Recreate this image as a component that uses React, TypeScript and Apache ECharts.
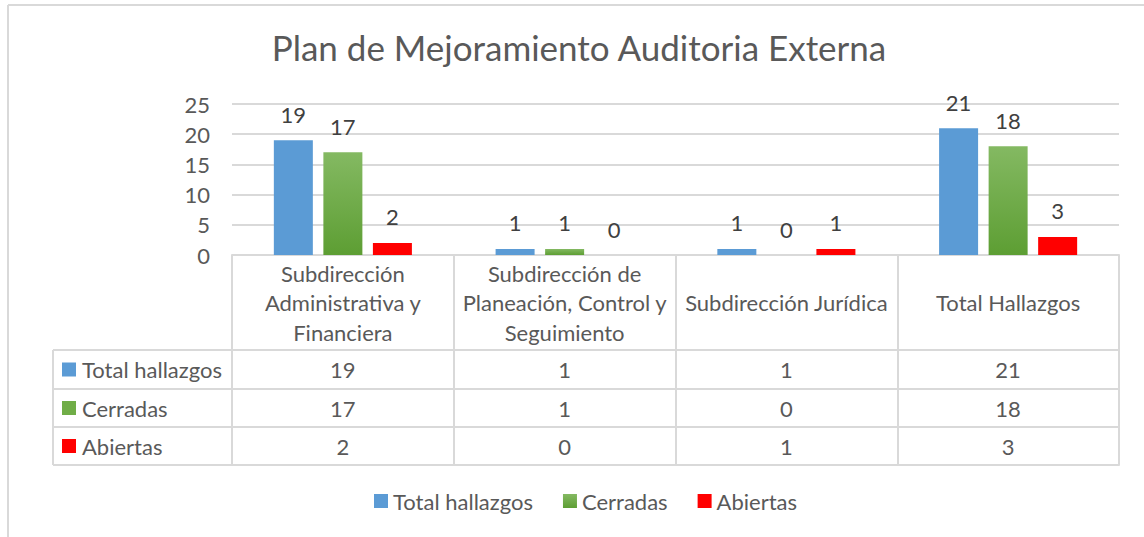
import React, { useEffect, useRef } from "react";
import * as echarts from "echarts";

const categories = [
  "Subdirección\nAdministrativa y\nFinanciera",
  "Subdirección de\nPlaneación, Control y\nSeguimiento",
  "Subdirección Jurídica",
  "Total Hallazgos",
];
const seriesNames = ["Total hallazgos", "Cerradas", "Abiertas"];
const totalHallazgos = [19, 1, 1, 21];
const cerradas = [17, 1, 0, 18];
const abiertas = [2, 0, 1, 3];
const titleText = "Plan de Mejoramiento Auditoria Externa";
const yMin = 0;
const yMax = 25;
const yInterval = 5;

const FONT = "Lato, 'Noto Sans', sans-serif";
const TEXT = "#595959";
const LINE = "#D9D9D9";
const FS = 22;

export default function App() {
  const ref = useRef<HTMLDivElement>(null);

  useEffect(() => {
    if (!ref.current) return;
    const chart = echarts.init(ref.current, null, { renderer: "svg" });

    const gridLeft = 232;
    const gridRight = 1119;
    const gridTop = 104;
    const gridBottom = 255;
    const rowLines = [350, 389, 427, 465];
    const tableLeft = 53;

    const seriesValues = [totalHallazgos, cerradas, abiertas];
    const colors: any[] = [
      "#5B9BD5",
      new echarts.graphic.LinearGradient(0, 0, 0, 1, [
        { offset: 0, color: "#84B962" },
        { offset: 1, color: "#5D9E33" },
      ]),
      "#FF0000",
    ];
    const legendColors = ["#5B9BD5", "#70AD47", "#FF0000"];

    const graphics: any[] = [
      { type: "line", shape: { x1: 8, y1: 5, x2: 1144, y2: 5 }, style: { stroke: LINE, lineWidth: 2 } },
      { type: "line", shape: { x1: 8, y1: 5, x2: 8, y2: 537 }, style: { stroke: LINE, lineWidth: 2 } },
      ...rowLines.map((y) => ({
        type: "line",
        shape: { x1: tableLeft, y1: y, x2: gridLeft, y2: y },
        style: { stroke: LINE, lineWidth: 2 },
      })),
      {
        type: "line",
        shape: { x1: tableLeft, y1: rowLines[0], x2: tableLeft, y2: rowLines[3] },
        style: { stroke: LINE, lineWidth: 2 },
      },
    ];
    seriesNames.forEach((name, r) => {
      const cy = (rowLines[r] + rowLines[r + 1]) / 2;
      graphics.push({
        type: "rect",
        shape: { x: 62, y: cy - 7, width: 14, height: 14 },
        style: { fill: legendColors[r] },
      });
      graphics.push({
        type: "text",
        x: 82,
        y: cy,
        style: {
          text: name,
          fill: TEXT,
          font: `${FS}px ${FONT}`,
          verticalAlign: "middle",
          align: "left",
        },
      });
    });

    const rowAxes = seriesValues.map((arr, r) => ({
      type: "category",
      data: categories,
      position: "bottom",
      offset: rowLines[r] - gridBottom,
      axisLine: { show: true, lineStyle: { color: LINE, width: 2 } },
      axisTick: { show: false },
      splitLine: { show: false },
      axisLabel: {
        interval: 0,
        margin: (rowLines[r + 1] - rowLines[r]) / 2,
        verticalAlign: "middle",
        fontSize: FS,
        fontFamily: FONT,
        color: TEXT,
        formatter: (_v: string, i: number) => String(arr[i]),
      },
    }));

    const option: any = {
      animation: false,
      title: {
        text: titleText,
        left: 579,
        top: 29,
        padding: 0,
        textAlign: "center",
        textStyle: { fontSize: 35, fontWeight: "normal", color: TEXT, fontFamily: FONT },
      },
      legend: {
        data: seriesNames,
        left: 374,
        top: 490,
        padding: 0,
        itemWidth: 14,
        itemHeight: 14,
        itemGap: 30,
        icon: "rect",
        textStyle: { fontSize: FS, color: TEXT, fontFamily: FONT },
      },
      grid: {
        left: gridLeft,
        right: 1144 - gridRight,
        top: gridTop,
        bottom: 537 - gridBottom,
        containLabel: false,
      },
      xAxis: [
        {
          type: "category",
          data: categories,
          position: "bottom",
          axisLine: { show: true, lineStyle: { color: LINE, width: 2 } },
          axisTick: {
            show: true,
            interval: 0,
            length: rowLines[3] - gridBottom,
            lineStyle: { color: LINE, width: 2 },
          },
          splitLine: { show: false },
          axisLabel: {
            interval: 0,
            margin: (rowLines[0] - gridBottom) / 2,
            verticalAlign: "middle",
            lineHeight: 29.5,
            fontSize: FS,
            fontFamily: FONT,
            color: TEXT,
          },
        },
        ...rowAxes,
        {
          type: "category",
          data: categories,
          position: "bottom",
          offset: rowLines[3] - gridBottom,
          axisLine: { show: true, lineStyle: { color: LINE, width: 2 } },
          axisTick: { show: false },
          axisLabel: { show: false },
          splitLine: { show: false },
        },
      ],
      yAxis: {
        type: "value",
        min: yMin,
        max: yMax,
        interval: yInterval,
        axisLine: { show: false },
        axisTick: { show: false },
        splitLine: { show: true, lineStyle: { color: LINE, width: 2 } },
        axisLabel: { margin: 22, fontSize: FS, fontFamily: FONT, color: TEXT },
      },
      series: seriesNames.map((name, s) => ({
        name,
        type: "bar",
        xAxisIndex: 0,
        data: seriesValues[s],
        barWidth: 39,
        barGap: "27%",
        itemStyle: { color: colors[s] },
        label: {
          show: true,
          position: "top",
          distance: 15,
          fontSize: FS,
          fontFamily: FONT,
          color: "#404040",
        },
      })),
      graphic: graphics,
    };

    chart.setOption(option);
    return () => chart.dispose();
  }, []);

  return (
    <div
      ref={ref}
      style={{ position: "absolute", left: 0, top: 0, width: 1144, height: 537, background: "#fff" }}
    />
  );
}
